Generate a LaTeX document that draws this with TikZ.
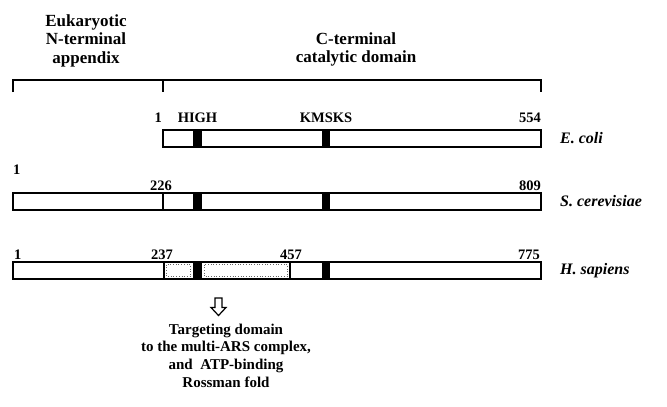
\documentclass[tikz,border=0pt]{standalone}
\usepackage{fontspec}
\setmainfont{Liberation Serif}
\begin{document}
\begin{tikzpicture}[x=1pt,y=-1pt,
  hdr/.style={font=\fontsize{17}{18.5}\selectfont\bfseries, align=center, inner sep=0, anchor=north},
  lbl/.style={font=\fontsize{14.5}{16}\selectfont\bfseries, inner sep=0},
  spc/.style={font=\fontsize{16}{18}\selectfont\bfseries\itshape, inner sep=0, anchor=west},
  note/.style={font=\fontsize{15}{17.7}\selectfont\bfseries, align=center, inner sep=0, anchor=north},
  bracket/.style={line width=2pt},
  outline/.style={draw, line width=2pt},
  divider/.style={line width=1.5pt},
  motif/.style={fill=black},
  inner/.style={draw=black!60, dotted, line width=0.7pt},
  hollow/.style={draw, line width=1.2pt, fill=white, line join=miter}
]
\useasboundingbox (0,0) rectangle (667,407);

% headers
\node[hdr] (euk) at (86,14.5) {Eukaryotic\\N-terminal\\appendix};
\node[hdr] (cterm) at (356,32.5) {C-terminal\\catalytic domain};

% bracket
\coordinate (bl) at (13,92);
\coordinate (blt) at (13,80);
\coordinate (bm) at (163,92);
\coordinate (bmt) at (163,80);
\coordinate (br) at (541,92);
\coordinate (brt) at (541,80);
\draw[bracket] (bl) -- (blt) -- (brt) -- (br);
\draw[bracket] (bmt) -- (bm);

% E. coli
\draw[outline] (163,130) rectangle (541,147);
\fill[motif] (193,130) rectangle (201.5,147);
\fill[motif] (322,130) rectangle (330,147);
\node[lbl, anchor=base east] (e1) at (162,122) {1};
\node[lbl, anchor=base] (high) at (197.5,122) {HIGH};
\node[lbl, anchor=base] (kmsks) at (326,122) {KMSKS};
\node[lbl, anchor=base east] (e554) at (541,122) {554};
\node[spc] (ecoli) at (560,138.5) {E. coli};

% S. cerevisiae
\draw[outline] (13,193) rectangle (541,210);
\draw[divider] (163,193) -- (163,210);
\fill[motif] (193,193) rectangle (201.5,210);
\fill[motif] (322,193) rectangle (330,210);
\node[lbl, anchor=base west] (s1) at (13,174) {1};
\node[lbl, anchor=base west] (s226) at (150,190) {226};
\node[lbl, anchor=base east] (s809) at (541,190) {809};
\node[spc] (scer) at (560,201.5) {S. cerevisiae};

% H. sapiens
\draw[inner] (166.5,264.5) rectangle (190.5,276.5);
\draw[inner] (204,264.5) rectangle (287.5,276.5);
\draw[outline, line width=2.6pt] (13,262) rectangle (541,279);
\draw[divider] (164,262) -- (164,279);
\draw[divider] (290,262) -- (290,279);
\fill[motif] (193,262) rectangle (201.5,279);
\fill[motif] (322,262) rectangle (330,279);
\node[lbl, anchor=base west] (h1) at (14,259) {1};
\node[lbl, anchor=base west] (h237) at (151,259) {237};
\node[lbl, anchor=base west] (h457) at (280,259) {457};
\node[lbl, anchor=base east] (h775) at (540,259) {775};
\node[spc] (hsap) at (560,270.5) {H. sapiens};

% hollow arrow
\coordinate (arr) at (218.5,298);
\draw[hollow] (arr) ++(-3.5,0) -- ++(7,0) -- ++(0,9.5) -- ++(4,0) -- ++(-7.5,8) -- ++(-7.5,-8) -- ++(4,0) -- cycle;

% note
\node[note] (target) at (226,323.5) {Targeting domain\\to the multi-ARS complex,\\and\ \ ATP-binding\\Rossman fold};
\end{tikzpicture}
\end{document}
